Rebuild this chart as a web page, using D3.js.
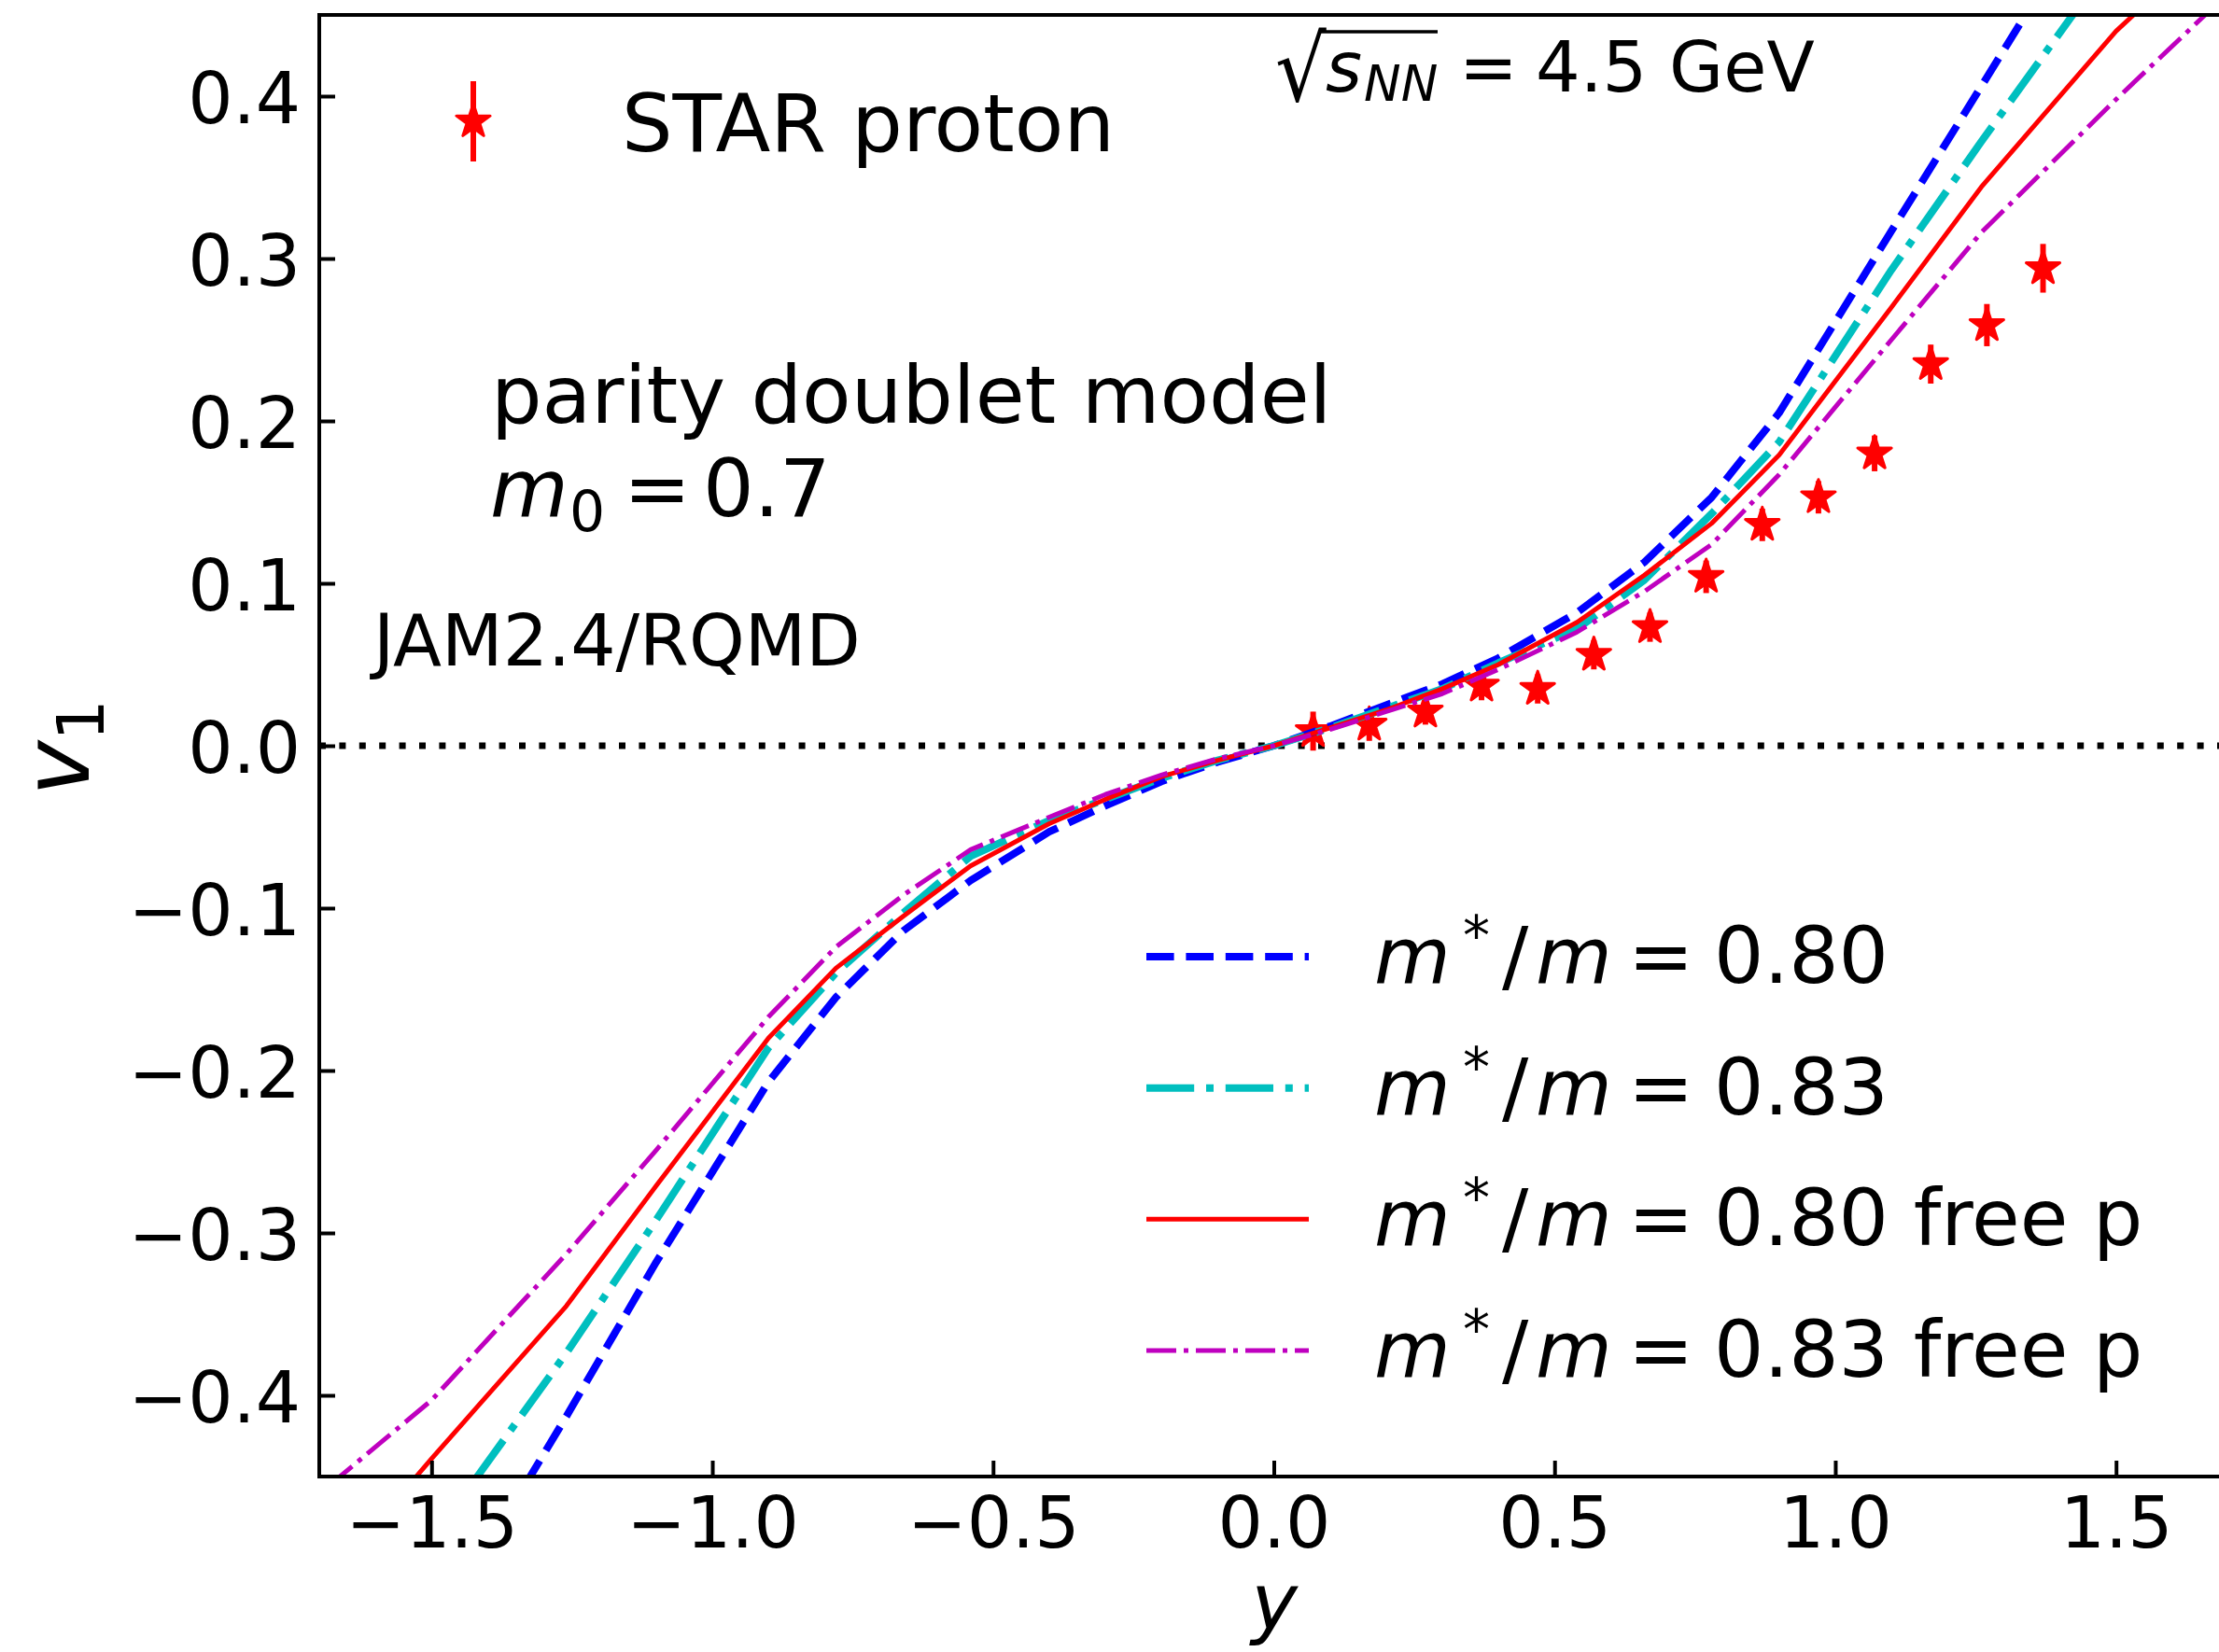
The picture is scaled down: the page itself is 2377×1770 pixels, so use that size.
<!DOCTYPE html>
<html><head><meta charset="utf-8">
<script src="https://cdn.jsdelivr.net/npm/d3@7"></script>
<style>body{margin:0;background:#fff}svg{display:block}text{font-family:"DejaVu Sans",sans-serif}</style>
</head><body>
<script>
// ---- data ----
const rapidity = [-1.75,-1.5,-1.26,-1.1,-0.9,-0.78,-0.66,-0.54,-0.4,-0.3,-0.2,-0.1,0,0.1,0.2,0.3,0.4,0.54,0.66,0.78,0.9,1.1,1.26,1.5,1.75];
const v1_080 = [-0.65,-0.551,-0.413,-0.318,-0.207,-0.155,-0.114,-0.083,-0.053,-0.037,-0.022,-0.010,0,0.012,0.025,0.038,0.054,0.082,0.113,0.153,0.205,0.317,0.406,0.54,0.68];
const v1_083 = [-0.61,-0.489,-0.374,-0.292,-0.186,-0.140,-0.103,-0.068,-0.046,-0.033,-0.020,-0.009,0,0.011,0.023,0.035,0.051,0.072,0.102,0.143,0.187,0.293,0.372,0.487,0.61];
const v1_080free = [-0.54,-0.439,-0.345,-0.271,-0.180,-0.137,-0.105,-0.074,-0.048,-0.033,-0.019,-0.009,0,0.011,0.022,0.035,0.050,0.076,0.105,0.137,0.179,0.270,0.344,0.440,0.52];
const v1_083free = [-0.475,-0.403,-0.313,-0.249,-0.167,-0.124,-0.092,-0.064,-0.044,-0.030,-0.018,-0.008,0,0.010,0.021,0.032,0.047,0.070,0.095,0.124,0.167,0.250,0.316,0.398,0.48];
const starY = [0.07,0.17,0.27,0.37,0.47,0.57,0.67,0.77,0.87,0.97,1.07,1.17,1.27,1.37];
const starV = [0.009,0.013,0.021,0.037,0.035,0.056,0.073,0.104,0.136,0.153,0.180,0.235,0.259,0.294];
const starErr = [0.012,0.010,0.008,0.009,0.009,0.009,0.009,0.010,0.010,0.010,0.011,0.012,0.013,0.015];
const xTicks = [-1.5,-1.0,-0.5,0.0,0.5,1.0,1.5];
const yTicks = [-0.4,-0.3,-0.2,-0.1,0.0,0.1,0.2,0.3,0.4];
const seriesLabels = ["0.80","0.83","0.80 free p","0.83 free p"];

const W = 2377, H = 1770;
const svg = d3.select("body").append("svg").attr("width", W).attr("height", H);
const x = d3.scaleLinear().domain([-1.7, 1.7]).range([342, 2387]);
const y = d3.scaleLinear().domain([-0.45, 0.45]).range([1582, 16]);
const fmt = v => d3.format(".1f")(v).replace("-", "\u2212");

svg.append("clipPath").attr("id","clip").append("rect")
  .attr("x", x.range()[0]).attr("y", y.range()[1])
  .attr("width", x.range()[1]-x.range()[0]).attr("height", y.range()[0]-y.range()[1]);

// zero line
svg.append("line").attr("x1", x(-1.7)).attr("x2", x(1.7)).attr("y1", y(0)).attr("y2", y(0))
  .attr("stroke","#000").attr("stroke-width",7).attr("stroke-dasharray","7,14.4");

// star path
function starPath(R) {
  const r = R*0.381966, pts = [];
  for (let i=0;i<10;i++){ const a = -Math.PI/2 + i*Math.PI/5; const rr = i%2?r:R; pts.push([rr*Math.cos(a), rr*Math.sin(a)]); }
  return "M" + pts.map(p=>p[0].toFixed(2)+","+p[1].toFixed(2)).join("L") + "Z";
}
const red = "#ff0000";
const gStar = svg.append("g").attr("clip-path","url(#clip)");
starY.forEach((yy,i) => {
  gStar.append("line").attr("x1", x(yy)).attr("x2", x(yy))
    .attr("y1", y(starV[i]-starErr[i])).attr("y2", y(starV[i]+starErr[i]))
    .attr("stroke", red).attr("stroke-width", 6);
  gStar.append("path").attr("d", starPath(19)).attr("transform", `translate(${x(yy)},${y(starV[i])})`)
    .attr("fill", red).attr("stroke", red).attr("stroke-width", 3).attr("stroke-linejoin","round");
});

// model lines
const styles = [
  {data: v1_080, color:"#0000ff", w:8, dash:"29.6,12.8"},
  {data: v1_083, color:"#00bfbf", w:8, dash:"51.2,12.8,8,12.8"},
  {data: v1_080free, color:"#ff0000", w:5, dash:null},
  {data: v1_083free, color:"#bf00bf", w:5, dash:"32,8,5,8"}
];
const line = d3.line().x(d=>x(d[0])).y(d=>y(d[1]));
const gLines = svg.append("g").attr("clip-path","url(#clip)");
styles.forEach(s => {
  gLines.append("path").attr("d", line(rapidity.map((r,i)=>[r, s.data[i]])))
    .attr("fill","none").attr("stroke", s.color).attr("stroke-width", s.w)
    .attr("stroke-dasharray", s.dash).attr("stroke-linejoin","round");
});

// axes frame
const frame = svg.append("g").attr("stroke","#000").attr("stroke-width",4).attr("fill","none");
frame.append("rect").attr("x", x.range()[0]).attr("y", y.range()[1])
  .attr("width", x.range()[1]-x.range()[0]).attr("height", y.range()[0]-y.range()[1]);

// ticks (inward)
const xAxis = d3.axisBottom(x).tickValues(xTicks).tickSizeInner(-17).tickSizeOuter(0).tickPadding(0).tickFormat(fmt);
const gx = svg.append("g").attr("transform", `translate(0,${y.range()[0]})`).call(xAxis);
gx.select(".domain").remove();
gx.selectAll(".tick line").attr("stroke","#000").attr("stroke-width",4);
gx.selectAll(".tick text").attr("font-size",76).attr("fill","#000").attr("dy",null).attr("y",76);
const yAxis = d3.axisLeft(y).tickValues(yTicks).tickSizeInner(-17).tickSizeOuter(0).tickPadding(0).tickFormat(fmt);
const gy = svg.append("g").attr("transform", `translate(${x.range()[0]},0)`).call(yAxis);
gy.select(".domain").remove();
gy.selectAll(".tick line").attr("stroke","#000").attr("stroke-width",4);
gy.selectAll(".tick text").attr("font-size",76).attr("fill","#000").attr("dy",null).attr("x",-20).attr("y",28);
svg.selectAll(".tick text").attr("font-family",'"DejaVu Sans",sans-serif');

// axis labels
svg.append("text").attr("x", 1365).attr("y", 1746).attr("text-anchor","middle")
  .attr("font-size", 84).attr("font-style","italic").text("y");
const yl = svg.append("text").attr("transform","translate(95,801) rotate(-90)").attr("text-anchor","middle").attr("font-size",100);
yl.append("tspan").attr("font-style","italic").text("v");
yl.append("tspan").attr("font-size",70).attr("dy",16).text("1");

// annotations
svg.append("text").attr("x",400).attr("y",713).attr("font-size",76).text("JAM2.4/RQMD");
svg.append("text").attr("x",526).attr("y",453).attr("font-size",86).text("parity doublet model");
const m0 = svg.append("text").attr("y",553).attr("font-size",86);
m0.append("tspan").attr("x",525).attr("font-style","italic").text("m");
m0.append("tspan").attr("x",610).attr("dy",16).attr("font-size",60).text("0");
m0.append("tspan").attr("x",668).attr("dy",-16).text("=");
m0.append("tspan").attr("x",753).text("0.7");

// sqrt s_NN
svg.append("text").attr("transform","translate(1366,108) scale(1,1.13)").attr("font-size",86).text("\u221A");
svg.append("line").attr("x1",1412).attr("x2",1540).attr("y1",34).attr("y2",34).attr("stroke","#000").attr("stroke-width",3.5);
const sq = svg.append("text").attr("y",98).attr("font-size",75);
sq.append("tspan").attr("x",1420).attr("font-style","italic").text("s");
sq.append("tspan").attr("x",1461).attr("dy",10).attr("font-size",53).attr("font-style","italic").text("NN");
sq.append("tspan").attr("x",1563).attr("dy",-10).text("=");
sq.append("tspan").attr("x",1645).text("4.5 GeV");

// STAR legend
const lgx = 507, lgy = 130;
svg.append("line").attr("x1",lgx).attr("x2",lgx).attr("y1",lgy-43).attr("y2",lgy+43).attr("stroke",red).attr("stroke-width",6);
svg.append("path").attr("d", starPath(19)).attr("transform",`translate(${lgx},${lgy})`).attr("fill",red).attr("stroke",red).attr("stroke-width",3).attr("stroke-linejoin","round");
svg.append("text").attr("x",666).attr("y",162).attr("font-size",86).text("STAR proton");

// model legend
const legY = d3.scaleLinear().domain([0,3]).range([1025,1447]);
styles.forEach((s,i) => {
  const yy = legY(i);
  svg.append("line").attr("x1",1228).attr("x2",1402).attr("y1",yy).attr("y2",yy)
    .attr("stroke",s.color).attr("stroke-width",s.w).attr("stroke-dasharray",s.dash);
  const t = svg.append("text").attr("y", yy+28).attr("font-size",84);
  const bx = 1472;
  t.append("tspan").attr("x",bx).attr("font-style","italic").text("m");
  t.append("tspan").attr("x",bx+95).attr("dy",-30).attr("font-size",58).text("*");
  t.append("tspan").attr("x",bx+137).attr("dy",30).text("/");
  t.append("tspan").attr("x",bx+173).attr("font-style","italic").text("m");
  t.append("tspan").attr("x",bx+272).text("=");
  t.append("tspan").attr("x",bx+364).text(seriesLabels[i]);
});
</script>
</body></html>
